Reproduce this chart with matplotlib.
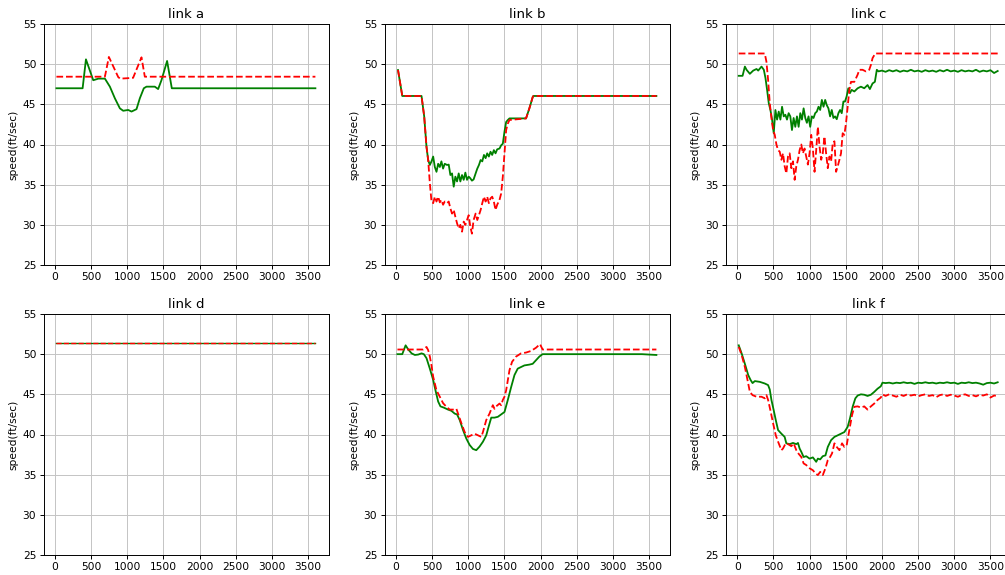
import matplotlib
matplotlib.use("Agg")
import matplotlib.pyplot as plt

# ---------------- data ----------------
titles = ["link a", "link b", "link c", "link d", "link e", "link f"]
ylabel = "speed(ft/sec)"
xticks = [0, 500, 1000, 1500, 2000, 2500, 3000, 3500]
yticks = [25, 30, 35, 40, 45, 50, 55]

# link a
a_t_g = [20, 382, 428, 529, 600, 690, 759, 828, 897, 943, 1012, 1058, 1127, 1173,
         1228, 1265, 1380, 1426, 1472, 1550, 1615, 3600]
a_g = [47.0, 47.0, 50.6, 48.0, 48.2, 48.2, 47.2, 45.75, 44.5, 44.2, 44.3, 44.1, 44.4,
       45.75, 47.0, 47.2, 47.2, 46.9, 48.0, 50.4, 47.0, 47.0]
a_t_r = [20, 690, 745, 874, 900, 1000, 1080, 1196, 1242, 3600]
a_r = [48.44, 48.44, 50.9, 48.4, 48.2, 48.25, 48.3, 50.85, 48.44, 48.44]

# link b
b_t = [28, 87, 353, 390, 422, 445, 468, 491, 514, 537, 560, 583, 606, 628, 651, 674,
       706, 729, 752, 775, 798, 821, 844, 867, 890, 913, 936, 959, 982, 1005, 1027,
       1050, 1073, 1101, 1124, 1147, 1170, 1193, 1216, 1239, 1261, 1284, 1307, 1330,
       1353, 1376, 1399, 1431, 1454, 1477, 1500, 1523, 1546, 1569, 1798, 1844, 1890,
       1900, 3600]
b_g = [49.27, 46.04, 46.04, 43.5, 39.7, 38.07, 37.45, 37.9, 38.5, 37.2, 36.6, 37.6,
       37.2, 37.9, 37.0, 37.6, 37.45, 37.5, 36.2, 36.4, 34.75, 36.0, 35.4, 36.4, 35.4,
       36.2, 35.6, 36.5, 35.6, 36.0, 35.8, 35.5, 35.65, 36.4, 37.0, 37.45, 38.07, 37.9,
       38.7, 38.3, 38.9, 38.5, 39.1, 38.7, 39.3, 38.9, 39.4, 39.5, 39.9, 40.1, 41.6,
       42.8, 43.05, 43.25, 43.25, 44.5, 45.9, 46.04, 46.04]
b_r = [49.27, 46.04, 46.04, 43.5, 39.7, 38.07, 35.2, 32.9, 32.7, 33.5, 32.9, 33.5,
       32.8, 33.1, 32.5, 32.9, 32.7, 32.9, 32.05, 31.4, 31.85, 31.0, 30.2, 29.56, 30.0,
       29.15, 30.4, 30.0, 30.6, 31.2, 29.8, 28.9, 30.6, 31.4, 30.6, 31.2, 31.85, 32.7,
       33.5, 32.9, 33.5, 32.7, 33.3, 33.5, 32.9, 31.85, 32.5, 33.1, 33.9, 36.0, 38.9,
       41.8, 42.6, 43.05, 43.25, 44.5, 45.9, 46.04, 46.04]

# link c
c_t_g = [20, 73, 105, 128, 174, 220, 266, 289, 335, 367, 390, 412, 435, 458, 481, 504,
         527, 550, 573, 596, 619, 642, 665, 687, 710, 733, 756, 779, 802, 825, 848, 871,
         894, 917, 940, 962, 985, 1008, 1031, 1054, 1077, 1100, 1123, 1146, 1169, 1192,
         1215, 1237, 1260, 1283, 1306, 1329, 1352, 1375, 1398, 1421, 1444, 1467, 1489,
         1512, 1535, 1558, 1581, 1618, 1664, 1709, 1755, 1801, 1833, 1870, 1902, 1929,
         1952,
         2000, 2050, 2100, 2150, 2200, 2250, 2300, 2350, 2400, 2450, 2500, 2550, 2600,
         2650, 2700, 2750, 2800, 2850, 2900, 2950, 3000, 3050, 3100, 3150, 3200, 3250,
         3300, 3350, 3400, 3450, 3500, 3550, 3600]
c_g = [48.55, 48.55, 49.7, 49.3, 48.8, 49.2, 49.4, 49.2, 49.7, 49.3, 48.25, 46.8, 45.15,
       44.3, 43.1, 41.4, 44.3, 43.1, 44.1, 43.1, 44.7, 43.5, 43.7, 43.1, 43.9, 43.5,
       41.8, 43.3, 42.2, 43.5, 42.2, 43.9, 43.1, 44.5, 43.3, 42.7, 43.5, 42.2, 43.5,
       43.3, 43.9, 44.1, 44.7, 44.3, 45.55, 44.7, 45.55, 44.9, 44.5, 43.5, 44.3, 43.3,
       43.5, 43.15, 43.9, 44.3, 43.9, 45.35, 45.35, 46.0, 47.0, 46.4, 46.8, 46.6, 47.0,
       47.2, 47.0, 47.4, 46.9, 47.6, 47.8, 49.3, 49.1,
       49.2, 49.05, 49.25, 49.1, 49.25, 49.05, 49.2, 49.1, 49.3, 49.1, 49.2, 49.05,
       49.25, 49.1, 49.2, 49.05, 49.25, 49.1, 49.3, 49.1, 49.2, 49.05, 49.25, 49.1, 49.2,
       49.1, 49.3, 49.05, 49.2, 49.1, 49.25, 48.9, 49.15]
c_t_r = [20, 380, 403, 426, 449, 472, 495, 518, 541, 564, 587, 610, 632, 655, 678, 701,
         724, 747, 770, 793, 816, 839, 862, 885, 907, 930, 953, 976, 999, 1022, 1045,
         1068, 1091, 1114, 1137, 1160, 1182, 1205, 1228, 1251, 1274, 1297, 1320, 1343,
         1366, 1389, 1412, 1434, 1457, 1480, 1503, 1526, 1549, 1572, 1618, 1664, 1687,
         1732, 1778, 1824, 1847, 1870, 1907, 3600]
c_r = [51.33, 51.33, 50.3, 48.05, 45.15, 43.3, 41.8, 41.2, 40.0, 39.3, 39.1, 38.1, 38.9,
       37.3, 36.4, 38.5, 38.9, 37.05, 37.9, 35.6, 37.3, 38.1, 39.3, 40.0, 38.9, 39.5,
       38.5, 37.5, 38.9, 41.2, 39.5, 36.6, 39.3, 42.2, 39.75, 38.1, 38.9, 41.0, 38.9,
       37.05, 38.5, 37.9, 40.2, 40.4, 36.6, 37.3, 38.1, 38.9, 41.4, 41.2, 42.65, 44.7,
       46.8, 47.8, 47.8, 48.7, 49.3, 49.3, 49.1, 49.3, 49.9, 50.75, 51.33, 51.33]

# link d
d_t = [20, 3600]
d_g = [51.33, 51.33]
d_r = [51.33, 51.33]

# link e
e_t_g = [20, 87, 133, 170, 216, 261, 307, 353, 385, 422, 468, 514, 546, 583, 615, 660,
         720, 766, 812, 844, 881, 927, 972, 1018, 1064, 1110, 1156, 1202, 1248, 1280,
         1317, 1362, 1408, 1454, 1500, 1546, 1592, 1638, 1683, 1729, 1775, 1844, 1890,
         1936, 1982, 2027, 3400, 3600]
e_g = [50.0, 50.0, 51.1, 50.58, 50.1, 49.9, 49.95, 50.1, 50.0, 49.5, 48.2, 46.8, 45.5,
       44.1, 43.5, 43.35, 43.1, 42.95, 42.6, 42.5, 41.8, 40.55, 39.5, 38.7, 38.2, 38.05,
       38.5, 39.1, 39.9, 40.95, 42.1, 42.1, 42.2, 42.5, 42.8, 44.3, 45.9, 47.4, 48.2,
       48.4, 48.6, 48.7, 48.8, 49.25, 49.7, 50.0, 50.0, 49.9]
e_t_r = [20, 376, 422, 445, 468, 491, 514, 537, 560, 606, 651, 697, 743, 789, 835, 858,
         904, 950, 995, 1041, 1087, 1133, 1179, 1202, 1248, 1293, 1339, 1362, 1385, 1431,
         1454, 1477, 1500, 1523, 1546, 1569, 1605, 1660, 1729, 1798, 1867, 1936, 1991,
         2027, 3600]
e_r = [50.58, 50.58, 50.9, 50.5, 49.7, 48.6, 47.2, 46.35, 45.5, 44.7, 43.9, 43.45, 43.1,
       43.1, 43.2, 42.6, 41.4, 40.3, 39.7, 39.9, 40.1, 39.9, 39.7, 40.3, 41.8, 42.6,
       43.65, 43.2, 43.5, 43.85, 43.65, 44.3, 44.7, 45.5, 46.75, 48.0, 49.05, 49.7, 50.1,
       50.2, 50.4, 50.8, 51.25, 50.58, 50.58]

# link f
f_t_g = [20, 60, 105, 151, 183, 211, 243, 312, 380, 426, 449, 472, 504, 532, 564, 610,
         655, 678, 724, 770, 816, 839, 862, 885, 917, 953, 999, 1045, 1091, 1114, 1146,
         1182, 1219, 1251, 1297, 1343, 1389, 1434, 1480, 1526, 1558, 1595, 1632, 1664,
         1709, 1755, 1801, 1847, 1893, 1939, 1984, 2007,
         2050, 2100, 2150, 2200, 2250, 2300, 2350, 2400, 2450, 2500, 2550, 2600, 2650,
         2700, 2750, 2800, 2850, 2900, 2950, 3000, 3050, 3100, 3150, 3200, 3250, 3300,
         3350, 3400, 3450, 3500, 3550, 3600]
f_g = [51.1, 50.1, 48.8, 47.4, 46.8, 46.4, 46.65, 46.55, 46.35, 46.15, 45.6, 44.3, 43.0,
       41.8, 40.55, 40.1, 39.7, 38.9, 38.8, 38.95, 38.8, 38.95, 38.25, 37.85, 37.2, 37.3,
       37.0, 37.15, 36.6, 37.0, 36.9, 37.3, 37.4, 38.45, 39.3, 39.7, 39.9, 40.1, 40.3,
       40.95, 42.0, 43.45, 44.5, 44.85, 45.0, 44.95, 44.8, 44.95, 45.3, 45.7, 46.0, 46.45,
       46.4, 46.45, 46.35, 46.45, 46.4, 46.5, 46.4, 46.45, 46.3, 46.45, 46.4, 46.5, 46.4,
       46.45, 46.35, 46.45, 46.4, 46.5, 46.4, 46.45, 46.3, 46.45, 46.4, 46.5, 46.4, 46.45,
       46.35, 46.2, 46.4, 46.45, 46.35, 46.5]
f_t_r = [20, 60, 105, 151, 174, 211, 266, 335, 380, 403, 426, 458, 495, 532, 564, 610,
         632, 669, 701, 747, 779, 816, 848, 885, 917, 953, 999, 1045, 1082, 1114, 1146,
         1182, 1219, 1251, 1283, 1310, 1343, 1375, 1412, 1448, 1480, 1512, 1549, 1586,
         1618, 1664, 1709, 1755, 1801, 1847, 1893, 1939, 1984, 2007,
         2050, 2100, 2150, 2200, 2250, 2300, 2350, 2400, 2450, 2500, 2550, 2600, 2650,
         2700, 2750, 2800, 2850, 2900, 2950, 3000, 3050, 3100, 3150, 3200, 3250, 3300,
         3350, 3400, 3450, 3500, 3550, 3600]
f_r = [50.9, 49.9, 48.4, 46.35, 45.3, 44.9, 44.7, 44.7, 44.5, 44.9, 44.3, 43.0, 41.4,
       39.9, 39.1, 38.05, 38.25, 38.9, 38.8, 38.55, 38.9, 38.05, 37.6, 37.2, 36.4, 36.2,
       35.8, 35.55, 35.15, 34.95, 35.35, 34.95, 35.8, 36.8, 37.2, 37.65, 38.9, 38.45,
       38.05, 38.9, 38.45, 38.65, 40.55, 42.4, 43.45, 43.5, 43.35, 43.5, 43.1, 43.5,
       43.85, 44.3, 44.6, 45.0,
       44.8, 45.0, 44.85, 44.7, 44.95, 44.8, 45.0, 44.85, 44.95, 44.75, 44.9, 45.0, 44.8,
       44.9, 44.65, 44.9, 45.0, 44.8, 44.95, 44.85, 44.7, 44.9, 45.0, 44.8, 44.9, 44.75,
       44.95, 44.85, 45.0, 44.6, 44.85, 44.8]

panels = [
    (a_t_g, a_g, a_t_r, a_r),
    (b_t, b_g, b_t, b_r),
    (c_t_g, c_g, c_t_r, c_r),
    (d_t, d_g, d_t, d_r),
    (e_t_g, e_g, e_t_r, e_r),
    (f_t_g, f_g, f_t_r, f_r),
]

# ---------------- layout ----------------
W, H = 1005, 575
fig = plt.figure(figsize=(W / 100, H / 100), dpi=100)
col_left = [43.7, 384.7, 726.0]
row_top = [24.0, 314.0]
ax_w, ax_h = 285.0, 241.0

for i, (tg, g, tr, r) in enumerate(panels):
    row, col = divmod(i, 3)
    left = col_left[col] / W
    bottom = 1 - (row_top[row] + ax_h) / H
    ax = fig.add_axes([left, bottom, ax_w / W, ax_h / H])
    lw = 1.0 if i == 3 else 1.3
    ax.plot(tg, g, color="green", linestyle="-", linewidth=lw)
    ax.plot(tr, r, color="red", linestyle="--", linewidth=lw)
    ax.set_xlim(-156, 3784)
    ax.set_ylim(25, 55)
    ax.set_xticks(xticks)
    ax.set_yticks(yticks)
    ax.grid(True, color="#c4c4c4", linewidth=0.7)
    ax.set_axisbelow(True)
    ax.set_title(titles[i], fontsize=9.5, pad=4)
    ax.set_ylabel(ylabel, fontsize=7.7, labelpad=3)
    ax.tick_params(labelsize=7.7, length=2.8, width=0.7, pad=2.5)
    for sp in ax.spines.values():
        sp.set_linewidth(0.7)

fig.savefig("out.png", dpi=100)
